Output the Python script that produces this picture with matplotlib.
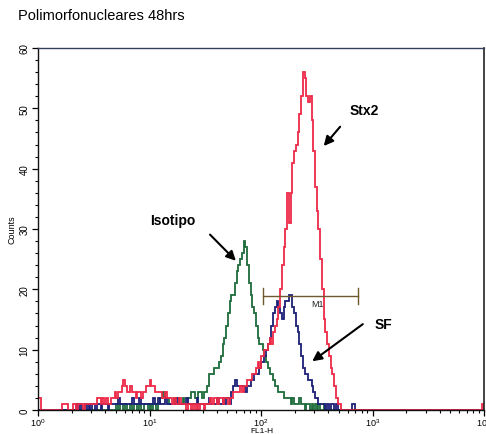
import numpy as np
import matplotlib
matplotlib.use("Agg")
import matplotlib.pyplot as plt
from matplotlib.ticker import MultipleLocator, LogLocator, NullFormatter

plt.rcParams['font.family'] = ['Liberation Sans', 'DejaVu Sans']

# 256 channels over 4 decades of FL1-H
n_channels = 256
channels_per_decade = 64

# Stx2 (red)
stx2_start = 0
stx2_counts = [
    2, 2, 0, 0, 0, 0, 0, 0, 0, 0, 0, 0, 0, 0, 1, 1,
    1, 0, 0, 0, 1, 1, 0, 1, 1, 1, 0, 1, 1, 1, 1, 1,
    1, 1, 2, 2, 1, 2, 1, 2, 1, 1, 2, 2, 3, 2, 3, 3,
    4, 5, 4, 3, 3, 4, 3, 3, 2, 3, 3, 2, 3, 3, 4, 4,
    5, 4, 4, 3, 3, 3, 3, 2, 2, 3, 2, 2, 2, 1, 2, 1,
    1, 2, 1, 1, 1, 0, 1, 1, 0, 1, 0, 1, 0, 1, 1, 0,
    1, 1, 1, 2, 1, 2, 2, 1, 2, 2, 1, 2, 2, 1, 2, 2,
    3, 3, 3, 3, 4, 3, 4, 4, 5, 5, 5, 6, 6, 7, 8, 7,
    9, 9, 10, 10, 11, 12, 11, 13, 14, 15, 17, 20, 24, 27, 30, 36,
    31, 36, 41, 43, 44, 46, 49, 52, 56, 55, 52, 51, 52, 48, 43, 37,
    33, 30, 25, 20, 15, 13, 11, 9, 7, 6, 4, 2, 1, 1,
]
stx2_last_channel = 1

# Isotipo (green)
iso_start = 45
iso_counts = [
    1, 0, 1, 1, 0, 1, 0, 0, 1, 0, 1, 1, 0, 1, 0, 0,
    1, 1, 0, 1, 0, 1, 1, 0, 1, 2, 2, 3, 2, 2, 1, 1,
    1, 2, 1, 1, 1, 1, 2, 1, 1, 2, 2, 3, 3, 2, 2, 3,
    3, 2, 3, 3, 4, 6, 6, 6, 7, 7, 7, 8, 9, 11, 12, 14,
    16, 18, 19, 19, 21, 23, 24, 25, 26, 28, 27, 24, 21, 19, 17, 16,
    14, 12, 11, 11, 10, 9, 8, 7, 6, 6, 5, 4, 4, 3, 3, 3,
    2, 2, 2, 2, 1, 2, 1, 1, 1, 2, 1, 1, 0, 1, 1, 0,
    1, 0, 1, 0, 1, 0, 0, 1,
]

# SF (navy)
sf_start = 22
sf_counts = [
    1, 0, 1, 0, 0, 1, 0, 1, 0, 1, 1, 0, 1, 1, 0, 1,
    1, 1, 0, 1, 1, 1, 1, 1, 2, 1, 1, 1, 1, 1, 1, 1,
    2, 1, 1, 1, 2, 1, 1, 1, 1, 1, 1, 1, 2, 1, 1, 2,
    1, 1, 1, 2, 1, 1, 1, 1, 1, 1, 2, 1, 1, 1, 1, 2,
    1, 1, 1, 1, 1, 2, 1, 1, 1, 1, 1, 1, 2, 1, 1, 1,
    1, 2, 1, 1, 2, 1, 2, 2, 1, 3, 4, 5, 4, 4, 4, 4,
    4, 3, 4, 4, 5, 5, 6, 6, 6, 7, 8, 8, 9, 10, 11, 12,
    14, 16, 17, 18, 17, 16, 15, 17, 18, 18, 19, 19, 17, 16, 14, 13,
    11, 9, 7, 6, 6, 5, 5, 4, 3, 2, 2, 1, 1, 1, 1, 0,
    1, 0, 1, 1, 0, 1, 0, 0, 0, 0, 0, 0, 0, 0, 1, 1,
]

# M1 region marker (FL1-H bounds) and its height in counts
m1_bounds = (104, 741)
m1_level = 18.9


def channel_array(start, counts):
    h = np.zeros(n_channels)
    h[start:start + len(counts)] = counts
    return h


edges = 10 ** (np.arange(n_channels + 1) / channels_per_decade)
stx2 = channel_array(stx2_start, stx2_counts)
stx2[-1] = stx2_last_channel
iso = channel_array(iso_start, iso_counts)
sf = channel_array(sf_start, sf_counts)

fig = plt.figure(figsize=(4.86, 4.35), dpi=100)
ax = fig.add_axes([0.0782, 0.0552, 0.9177, 0.8322])

ax.stairs(iso, edges, color='#1e6b3c', lw=1.3)
ax.stairs(sf, edges, color='#1c2077', lw=1.3)
ax.stairs(stx2, edges, color='#ee2a48', lw=1.3)

# M1 gate
mx0, mx1 = m1_bounds
ax.plot([mx0, mx1], [m1_level, m1_level], color='#6e5a2e', lw=1.0)
for mx in m1_bounds:
    ax.plot([mx, mx], [m1_level - 1.4, m1_level + 1.4], color='#6e5a2e', lw=1.0)
ax.text(np.sqrt(mx0 * mx1) * 1.15, m1_level - 0.5, 'M1', fontsize=6.5,
        ha='center', va='top', color='#222222')

ax.set_xscale('log')
ax.set_xlim(1, 10 ** 4)
ax.set_ylim(0, 60)
ax.yaxis.set_major_locator(MultipleLocator(10))
ax.yaxis.set_minor_locator(MultipleLocator(2))
ax.xaxis.set_major_locator(LogLocator(base=10))
ax.xaxis.set_minor_locator(LogLocator(base=10, subs=np.arange(2, 10)))
ax.xaxis.set_minor_formatter(NullFormatter())

ax.tick_params(axis='both', which='major', length=4, width=0.9, labelsize=7, pad=2)
ax.tick_params(axis='x', which='major', labelsize=6.5, pad=0.5)
ax.tick_params(axis='both', which='minor', length=2.5, width=0.8)
ax.tick_params(axis='y', labelrotation=90)
for lbl in ax.get_yticklabels():
    lbl.set_va('center')

for side in ['left', 'bottom']:
    ax.spines[side].set_color('#111111')
    ax.spines[side].set_linewidth(1.0)
ax.spines['top'].set_color('#33405e')
ax.spines['right'].set_color('#222222')
ax.spines['top'].set_linewidth(1.0)
ax.spines['right'].set_linewidth(1.2)

ax.set_ylabel('Counts', fontsize=6.5, labelpad=2)
fig.text(262 / 486, 1 - 431.5 / 435, 'FL1-H', fontsize=6, ha='center', va='center')

fig.text(0.037, 0.963, 'Polimorfonucleares 48hrs', fontsize=10.5, va='center', ha='left')

arrow = dict(arrowstyle='-|>', color='black', lw=1.5, mutation_scale=14)
ax.annotate('', xy=(352, 43.4), xytext=(532, 47.3), arrowprops=arrow)
ax.text(628, 49.8, 'Stx2', fontsize=10, va='center', ha='left', fontweight='bold')
ax.annotate('', xy=(62, 24.4), xytext=(33.5, 29.4), arrowprops=arrow)
ax.text(10.1, 31.5, 'Isotipo', fontsize=10, va='center', ha='left', fontweight='bold')
ax.annotate('', xy=(275, 7.8), xytext=(857, 14.5), arrowprops=arrow)
ax.text(1052, 14.3, 'SF', fontsize=10, va='center', ha='left', fontweight='bold')

fig.savefig('out.png', dpi=100)
